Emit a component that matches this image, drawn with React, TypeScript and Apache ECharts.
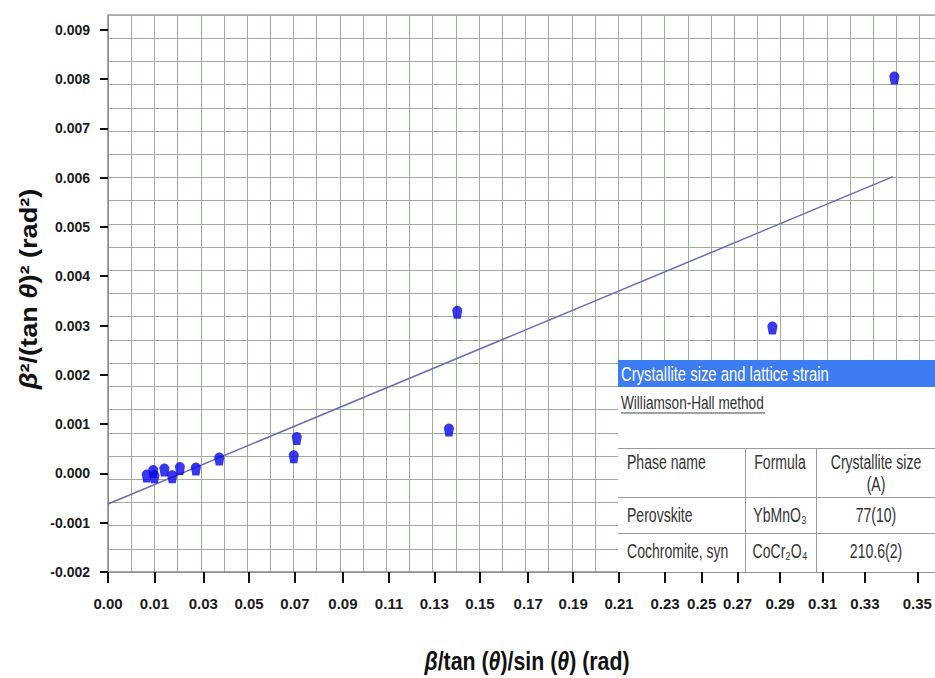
import React, { useEffect, useRef } from 'react';
import * as echarts from 'echarts';

// Scatter points (x: β/tanθ/sinθ, y: β²/(tanθ)²)
const pointsX = [0.0167, 0.0195, 0.0200, 0.0243, 0.0277, 0.0310, 0.0379, 0.0480, 0.0801, 0.0814, 0.1470, 0.1506, 0.2865, 0.3391];
const pointsY = [-0.00005, 0.00004, -0.00007, 0.00007, -0.00007, 0.00010, 0.00009, 0.00029, 0.00034, 0.00071, 0.00088, 0.00327, 0.00295, 0.00802];
// Linear fit line end points
const fitX = [0, 0.3385];
const fitY = [-0.00062, 0.00602];
// X tick positions (axis units) and their printed labels
const xTickPositions = [0, 0.0200, 0.0411, 0.0608, 0.0806, 0.1013, 0.1212, 0.1407, 0.1604, 0.1812, 0.2006, 0.2204, 0.2402, 0.2560, 0.2715, 0.2898, 0.3082, 0.3264, 0.3490];
const xTickLabels = ['0.00', '0.01', '0.03', '0.05', '0.07', '0.09', '0.11', '0.13', '0.15', '0.17', '0.19', '0.21', '0.23', '0.25', '0.27', '0.29', '0.31', '0.33', '0.35'];
// Y ticks
const yTickValues = [-0.002, -0.001, 0, 0.001, 0.002, 0.003, 0.004, 0.005, 0.006, 0.007, 0.008, 0.009];
const yTickLabels = ['-0.002', '-0.001', '0.000', '0.001', '0.002', '0.003', '0.004', '0.005', '0.006', '0.007', '0.008', '0.009'];
// Titles
const xTitle = '{i|β}/tan ({i|θ})/sin ({i|θ}) (rad)';
const yTitle = '{i|β}²/(tan {i|θ})² (rad²)';
// Table content
const tableTitle = 'Crystallite size and lattice strain';
const tableSubtitle = 'Williamson-Hall method';
const tableHeader = ['Phase name', 'Formula', 'Crystallite size', '(A)'];
const phaseNames = ['Perovskite', 'Cochromite, syn'];
const phaseFormulas = ['YbMnO₃', 'CoCr₂O₄'];
const phaseSizes = ['77(10)', '210.6(2)'];

const SANS = "'Liberation Sans', Arial, sans-serif";

export default function App() {
  const ref = useRef<HTMLDivElement>(null);
  useEffect(() => {
    if (!ref.current) return;
    const chart = echarts.init(ref.current, null, { renderer: 'svg' });
    const gridColor = '#9dae9b';
    const textColor = '#333';
    const tableLine = '#9a9a9a';
    const tx = 618;
    const narrowText = (text: string, x: number, y: number, size: number, sx: number, align: string, fill: string) => ({
      type: 'text', z: 102, x, y, scaleX: sx, scaleY: 1.12,
      style: { text, fill, font: `${size}px ${SANS}`, verticalAlign: 'middle', align },
    });
    const graphics: any[] = [
      { type: 'rect', z: 100, shape: { x: tx, y: 360, width: 317, height: 212 }, style: { fill: '#ffffff' } },
      { type: 'rect', z: 101, shape: { x: tx, y: 360, width: 317, height: 27 }, style: { fill: '#3d7cf3' } },
      narrowText(tableTitle, 621, 374, 18, 0.825, 'left', '#ffffff'),
      narrowText(tableSubtitle, 621, 403, 17, 0.8, 'left', textColor),
      { type: 'line', z: 102, shape: { x1: 621, y1: 413, x2: 765, y2: 413 }, style: { stroke: '#444', lineWidth: 1 } },
      { type: 'line', z: 102, shape: { x1: tx, y1: 448.5, x2: 935, y2: 448.5 }, style: { stroke: tableLine, lineWidth: 1 } },
      { type: 'line', z: 102, shape: { x1: tx, y1: 497.5, x2: 935, y2: 497.5 }, style: { stroke: tableLine, lineWidth: 1 } },
      { type: 'line', z: 102, shape: { x1: tx, y1: 533.5, x2: 935, y2: 533.5 }, style: { stroke: tableLine, lineWidth: 1 } },
      { type: 'line', z: 102, shape: { x1: 745.5, y1: 448, x2: 745.5, y2: 572 }, style: { stroke: tableLine, lineWidth: 1 } },
      { type: 'line', z: 102, shape: { x1: 816.5, y1: 448, x2: 816.5, y2: 572 }, style: { stroke: tableLine, lineWidth: 1 } },
      narrowText(tableHeader[0], 627, 462, 18, 0.78, 'left', textColor),
      narrowText(tableHeader[1], 780, 462, 18, 0.78, 'center', textColor),
      narrowText(tableHeader[2], 876, 462, 18, 0.78, 'center', textColor),
      narrowText(tableHeader[3], 876, 484, 18, 0.78, 'center', textColor),
      // Axis titles
      {
        type: 'text', z: 50, x: 527, y: 661, scaleX: 0.82,
        style: {
          text: xTitle, fill: '#111', font: `bold 26px ${SANS}`, align: 'center', verticalAlign: 'middle',
          rich: { i: { fontStyle: 'italic', fontWeight: 'bold', fontSize: 26, fontFamily: SANS, fill: '#111' } },
        },
      },
      {
        type: 'text', z: 50, x: 29, y: 289, rotation: Math.PI / 2, scaleX: 1.13,
        style: {
          text: yTitle, fill: '#111', font: `bold 24px ${SANS}`, align: 'center', verticalAlign: 'middle',
          rich: { i: { fontStyle: 'italic', fontWeight: 'bold', fontSize: 24, fontFamily: SANS, fill: '#111' } },
        },
      },
    ];
    const rowY = [515, 551];
    phaseNames.forEach((n, i) => {
      graphics.push(narrowText(n, 627, rowY[i], 18, 0.78, 'left', textColor));
      graphics.push(narrowText(phaseFormulas[i], 780, rowY[i], 18, 0.78, 'center', textColor));
      graphics.push(narrowText(phaseSizes[i], 876, rowY[i], 18, 0.78, 'center', textColor));
    });

    chart.setOption({
      animation: false,
      backgroundColor: '#ffffff',
      grid: { left: 108, top: 15, right: 0, bottom: 106, containLabel: false },
      xAxis: [
        {
          type: 'value', min: 0, max: 0.35662,
          axisLine: { show: true, onZero: false, lineStyle: { color: '#8a8a8a', width: 1.5 } },
          axisTick: { show: true, customValues: xTickPositions, length: 11, inside: false, lineStyle: { color: '#111', width: 2 } },
          axisLabel: {
            show: true, customValues: xTickPositions, margin: 24,
            color: '#1a1a1a', fontFamily: SANS, fontWeight: 'bold', fontSize: 15,
            formatter: (v: number) => {
              const idx = xTickPositions.findIndex((p) => Math.abs(p - v) < 1e-6);
              return idx >= 0 ? xTickLabels[idx] : '';
            },
          },
          splitLine: { show: false },
        },
        {
          type: 'value', min: 0, max: 827 / 23.19, interval: 1, position: 'top',
          axisLine: { show: true, onZero: false, lineStyle: { color: '#a8a8a8', width: 1.5 } },
          axisTick: { show: false }, axisLabel: { show: false },
          splitLine: { show: true, lineStyle: { color: gridColor, width: 1 } },
        },
      ],
      yAxis: [
        {
          type: 'value', min: -0.002, max: 0.0093,
          axisLine: { show: true, onZero: false, lineStyle: { color: '#8a8a8a', width: 1.5 } },
          axisTick: { show: true, customValues: yTickValues, length: 8, lineStyle: { color: '#111', width: 2 } },
          axisLabel: {
            show: true, customValues: yTickValues, margin: 18,
            color: '#1a1a1a', fontFamily: SANS, fontWeight: 'bold', fontSize: 14,
            formatter: (v: number) => {
              const idx = yTickValues.findIndex((p) => Math.abs(p - v) < 1e-9);
              return idx >= 0 ? yTickLabels[idx] : '';
            },
          },
          splitLine: { show: false },
        },
        {
          type: 'value', min: 0, max: 24, interval: 1, position: 'right',
          axisLine: { show: false, onZero: false }, axisTick: { show: false }, axisLabel: { show: false },
          splitLine: { show: true, lineStyle: { color: gridColor, width: 1 } },
        },
      ],
      series: [
        {
          type: 'line', xAxisIndex: 0, yAxisIndex: 0,
          data: fitX.map((x, i) => [x, fitY[i]]),
          showSymbol: false, symbol: 'none',
          lineStyle: { color: '#6a6ab8', width: 1.5 },
          z: 3,
        },
        {
          type: 'scatter', xAxisIndex: 0, yAxisIndex: 0,
          data: pointsX.map((x, i) => [x, pointsY[i]]),
          symbol: 'path://M5,0 C7.5,0 10,2 10,4.5 L8.5,12 L1.5,12 L0,4.5 C0,2 2.5,0 5,0 Z',
          symbolSize: [10, 13],
          itemStyle: { color: '#0808e6' },
          z: 4,
        },
      ],
      graphic: graphics,
    });
    return () => chart.dispose();
  }, []);
  return <div ref={ref} style={{ position: 'fixed', left: 0, top: 0, width: 935, height: 678 }} />;
}
